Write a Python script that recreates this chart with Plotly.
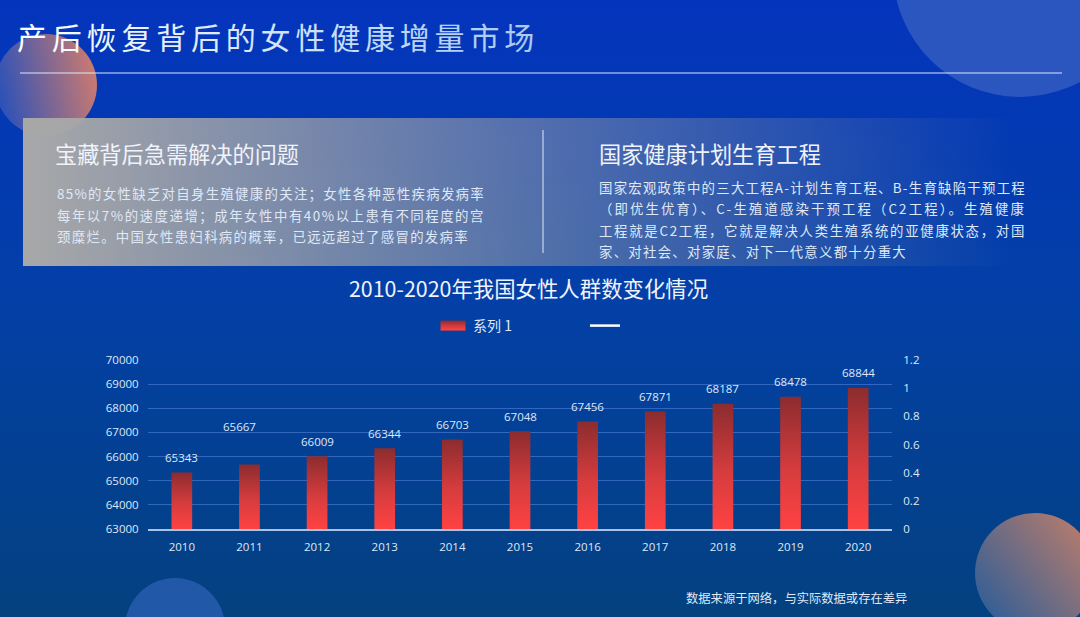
import base64
import json
import plotly.graph_objects as go

# 数据
years = ["2010", "2011", "2012", "2013", "2014", "2015", "2016", "2017", "2018", "2019", "2020"]
women = [65343, 65667, 66009, 66344, 66703, 67048, 67456, 67871, 68187, 68478, 68844]
line_values = [None] * len(years)
left_ticks = [63000, 64000, 65000, 66000, 67000, 68000, 69000, 70000]
right_ticks = [0, 0.2, 0.4, 0.6, 0.8, 1, 1.2]

page_title = "产后恢复背后的女性健康增量市场"
chart_title = "2010-2020年我国女性人群数变化情况"
left_heading = "宝藏背后急需解决的问题"
right_heading = "国家健康计划生育工程"
left_lines = [
    "85%的女性缺乏对自身生殖健康的关注；女性各种恶性疾病发病率",
    "每年以7%的速度递增；成年女性中有40%以上患有不同程度的宫",
    "颈糜烂。中国女性患妇科病的概率，已远远超过了感冒的发病率",
]
right_lines = [
    "国家宏观政策中的三大工程A-计划生育工程、B-生育缺陷干预工程",
    "（即优生优育）、C-生殖道感染干预工程（C2工程）。生殖健康",
    "工程就是C2工程，它就是解决人类生殖系统的亚健康状态，对国",
    "家、对社会、对家庭、对下一代意义都十分重大",
]
footnote = "数据来源于网络，与实际数据或存在差异"

W, H = 1080, 617
L, R, T, B = 148, 892, 360, 529
CJK = "Noto Sans CJK SC"
TXT = "#dfe8f7"

# 两端对齐后每行的像素宽度
line_widths = dict(zip(left_lines + right_lines, [428, 428, 412, 427, 427, 427, 308]))


# 像素坐标转 paper 坐标
def xp(px):
    return (px - L) / (R - L)


def yp(py):
    return (B - py) / (B - T)


def label(text, x, y, size, color=TXT, anchor="left", font=CJK):
    return dict(text=text, x=xp(x), y=yp(y), xref="paper", yref="paper", xanchor=anchor, yanchor="middle",
                showarrow=False, borderpad=0, font=dict(family=font, size=size, color=color))


# 背景：渐变、圆、面板
bg_svg = f"""<svg xmlns="http://www.w3.org/2000/svg" width="{W}" height="{H}" viewBox="0 0 {W} {H}">
<defs>
<linearGradient id="bg" x1="0" y1="0" x2="0" y2="1"><stop offset="0" stop-color="#0434bd"/><stop offset="0.5" stop-color="#0340a6"/><stop offset="1" stop-color="#03417f"/></linearGradient>
<linearGradient id="c1" x1="0" y1="0.6" x2="1" y2="0.4"><stop offset="0" stop-color="#2650bb"/><stop offset="1" stop-color="#cc7a70"/></linearGradient>
<linearGradient id="c2" x1="0" y1="1" x2="1" y2="0.2"><stop offset="0" stop-color="#1f5a9c"/><stop offset="1" stop-color="#b87c6c"/></linearGradient>
<linearGradient id="panel" x1="0" y1="0" x2="1" y2="0"><stop offset="0" stop-color="#a8a8a8"/><stop offset="1" stop-color="#a8a8a8" stop-opacity="0"/></linearGradient>
</defs>
<rect width="{W}" height="{H}" fill="url(#bg)"/>
<circle cx="1020" cy="-30" r="127" fill="#2b56c0"/>
<circle cx="46" cy="85" r="51" fill="url(#c1)"/>
<circle cx="1035" cy="573" r="60" fill="url(#c2)"/>
<circle cx="175" cy="628" r="50" fill="#2258a8"/>
<rect x="23" y="118" width="990" height="148" fill="url(#panel)"/>
</svg>"""
bg_uri = "data:image/svg+xml;base64," + base64.b64encode(bg_svg.encode()).decode()

fig = go.Figure()
fig.add_trace(go.Bar(x=years, y=women, name="系列 1", width=0.306, marker=dict(color="#ff4040", line_width=0)))
fig.add_trace(go.Scatter(x=years, y=line_values, name=" ", mode="lines", yaxis="y2",
                         line=dict(color="white", width=2.5)))

annotations = [
    label(page_title, 16, 35.5, 30, "#f2f5fb"),
    label(left_heading, 54, 153.5, 22.2, "#f0f3fa"),
    label(right_heading, 598, 153.5, 22.2, "#f0f3fa"),
    label(chart_title, 528, 287.5, 21.4, "#f0f3fa", "center"),
    label(footnote, 685, 598, 12.3, TXT),
]
for i, line in enumerate(left_lines):
    annotations.append(label(line, 56, 193 + i * 21.5, 13.4))
for i, line in enumerate(right_lines):
    annotations.append(label(line, 598, 187 + i * 21.4, 13.4))

# 数据标签，2011 年的标签在原图里被手动挪过
for i, value in enumerate(women):
    moved = years[i] == "2011"
    annotations.append(dict(text=str(value), x=i, y=value, xref="x", yref="y", xanchor="center", yanchor="middle",
                            showarrow=False, xshift=-10 if moved else 0, yshift=38 if moved else 15,
                            font=dict(family="Open Sans", size=11.5, color=TXT)))

fig.update_layout(
    width=W, height=H, autosize=False,
    margin=dict(l=L, r=W - R, t=T, b=H - B),
    paper_bgcolor="#0340a6", plot_bgcolor="rgba(0,0,0,0)",
    hovermode=False,
    images=[dict(source=bg_uri, xref="paper", yref="paper", x=xp(0), y=yp(0), sizex=W / (R - L), sizey=H / (B - T),
                 xanchor="left", yanchor="top", sizing="stretch", layer="below")],
    annotations=annotations,
    shapes=[
        dict(type="line", xref="paper", yref="paper", x0=xp(20), x1=xp(1062), y0=yp(73), y1=yp(73),
             line=dict(color="#dfe8f7", width=1)),
        dict(type="line", xref="paper", yref="paper", x0=xp(543), x1=xp(543), y0=yp(130), y1=yp(253),
             line=dict(color="#dfe8f7", width=1)),
    ],
    legend=dict(orientation="h", x=xp(433), y=yp(326), xanchor="left", yanchor="middle", bgcolor="rgba(0,0,0,0)",
                font=dict(family=CJK, size=14, color=TXT), entrywidth=107, entrywidthmode="pixels", itemclick=False),
    xaxis=dict(type="category", categoryorder="array", categoryarray=years, range=[-0.5, 10.5], showgrid=False,
               showline=True, linecolor="#a9c2e8", linewidth=1.5, ticks="outside", ticklen=6,
               tickcolor="rgba(0,0,0,0)", tickfont=dict(family="Open Sans", size=11.5, color=TXT)),
    yaxis=dict(range=[63000, 70000], tickvals=left_ticks, showgrid=True, gridcolor="rgba(70,120,205,0.7)",
               gridwidth=1, zeroline=False, showline=False, ticks="outside", ticklen=6, tickcolor="rgba(0,0,0,0)",
               tickformat="d", tickfont=dict(family="Open Sans", size=11.5, color=TXT)),
    yaxis2=dict(range=[0, 1.2], tickvals=right_ticks, overlaying="y", side="right", showgrid=False, zeroline=False,
                showline=False, ticks="outside", ticklen=8, tickcolor="rgba(0,0,0,0)",
                tickfont=dict(family="Open Sans", size=11.5, color=TXT)),
)

# 柱子渐变、图例色块、字间距，plotly 本身不支持，页面加载后处理
post_script = """
document.body.style.margin = '0';
var gd = document.getElementById('{plot_id}');
var NS = 'http://www.w3.org/2000/svg';
var defs = gd.querySelector('svg.main-svg defs');
var widths = LINE_WIDTHS;
var barStops = [['0', '#8c2c2e'], ['0.55', '#d63c3e'], ['1', '#ff4242']];
function grad(id, stops, attrs) {
  var g = document.createElementNS(NS, 'linearGradient');
  g.setAttribute('id', id);
  Object.keys(attrs).forEach(function (k) { g.setAttribute(k, attrs[k]); });
  stops.forEach(function (s) {
    var st = document.createElementNS(NS, 'stop');
    st.setAttribute('offset', s[0]); st.setAttribute('stop-color', s[1]);
    g.appendChild(st);
  });
  defs.appendChild(g);
}
// 注释文字是居中锚点，加字距后要把 x 补回去
function setSpacing(t, px) {
  var w0 = t.getComputedTextLength();
  t.style.letterSpacing = px + 'px';
  var w1 = t.getComputedTextLength();
  t.setAttribute('x', parseFloat(t.getAttribute('x')) + (w1 - w0) / 2);
}
grad('legendgrad', barStops, {x1: 0, y1: 0, x2: 0, y2: 1});
grad('titlegrad', [['0', '#ffffff'], ['1', '#a9c8f0']], {x1: 0, y1: 0, x2: 1, y2: 0});
// 柱子路径一直画到 0 值，所以渐变按柱顶到坐标轴算
var plotH = gd._fullLayout._size.h;
gd.querySelectorAll('.bars .point path').forEach(function (p, i) {
  var id = 'bargrad' + i;
  grad(id, barStops, {gradientUnits: 'userSpaceOnUse', x1: 0, x2: 0, y1: p.getBBox().y, y2: plotH});
  p.style.fill = 'url(#' + id + ')';
});
gd.querySelectorAll('.legendpoints path').forEach(function (p) {
  if (p.getAttribute('d') && p.getAttribute('d').indexOf('Z') < 0) return;
  p.setAttribute('d', 'M12.5,5H-12.5V-5H12.5Z');
  p.style.fill = 'url(#legendgrad)';
});
gd.querySelectorAll('.annotation-text').forEach(function (t) {
  var target = widths[t.textContent];
  if (target) {
    setSpacing(t, (target - t.getComputedTextLength()) / t.textContent.length);
  } else if (parseFloat(t.style.fontSize) === 30) {
    setSpacing(t, 4.8);
    t.style.fill = 'url(#titlegrad)';
  }
});
""".replace("LINE_WIDTHS", json.dumps(line_widths, ensure_ascii=False))

fig.write_html("out.html", config={"displayModeBar": False}, post_script=post_script)
